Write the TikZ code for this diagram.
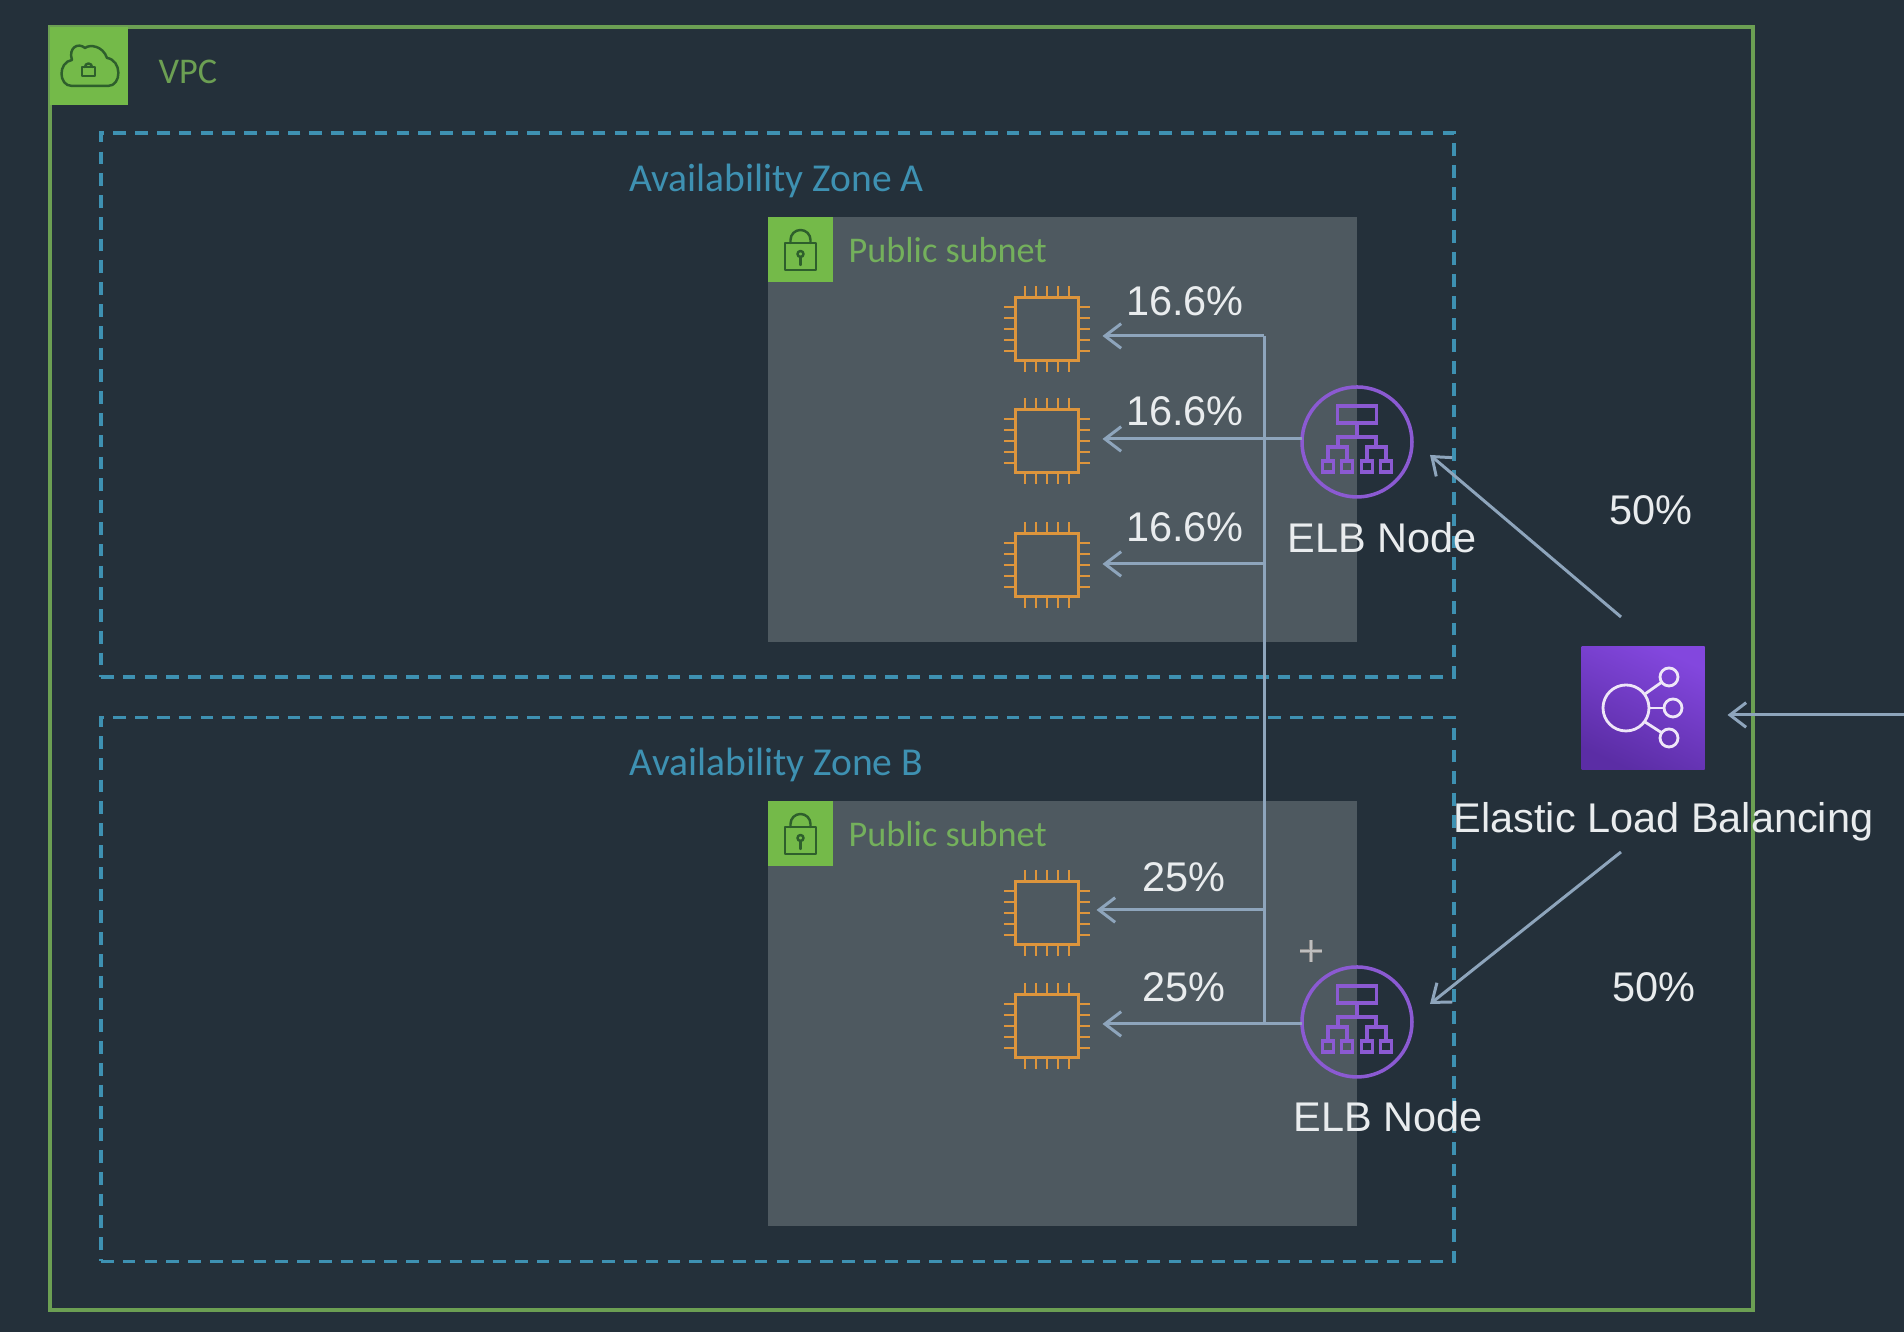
\documentclass[tikz,border=0pt]{standalone}
\usepackage{fontspec}
\setmainfont{Liberation Sans}
\newfontfamily\groupfont{Carlito}
\usetikzlibrary{arrows.meta}
\definecolor{bgdark}{HTML}{24303A}
\definecolor{subnetgray}{HTML}{4E5960}
\definecolor{vpcgreen}{HTML}{6C9F53}
\definecolor{subnetgreen}{HTML}{74B05C}
\definecolor{tagback}{HTML}{74BA49}
\definecolor{tagline}{HTML}{2E5F2C}
\definecolor{zoneblue}{HTML}{3E91B2}
\definecolor{linkgray}{HTML}{8EA5BC}
\definecolor{chiporange}{HTML}{DD953C}
\definecolor{elbpurple}{HTML}{8B5AD2}
\definecolor{lbbright}{HTML}{8347DE}
\definecolor{lbdeep}{HTML}{5B2DA5}
\definecolor{labelwhite}{HTML}{E9ECEE}
\tikzset{
  vpcbox/.style={draw=vpcgreen, line width=0.95pt, minimum width=17.03cm, minimum height=12.83cm, inner sep=0},
  tagbox/.style={fill=tagback, inner sep=0},
  taglines/.style={draw=tagline, line width=0.7pt, line cap=round, line join=round},
  zonebox/.style={draw=zoneblue, line width=1pt, dash pattern=on 3.6pt off 2.6pt, minimum width=13.53cm, minimum height=5.44cm, inner sep=0},
  subnetbox/.style={fill=subnetgray, minimum width=5.89cm, minimum height=4.25cm, inner sep=0},
  zonelabel/.style={text=zoneblue, font=\groupfont\fontsize{11.25}{13}\selectfont},
  grouplabel/.style={text=subnetgreen, inner sep=0, font=\groupfont\fontsize{10.3}{13}\selectfont},
  figure/.style={text=labelwhite, font=\fontsize{11.8}{14}\selectfont},
  chip/.style={draw=chiporange, line width=1pt, minimum size=0.63cm, inner sep=0, outer sep=0.24cm},
  elb/.style={circle, draw=elbpurple, line width=1pt, minimum size=1.1cm, inner sep=0},
  balancer/.style={top color=lbbright, bottom color=lbdeep, shading angle=-25, minimum size=1.23cm, inner sep=0, outer sep=0.23cm},
  link/.style={draw=linkgray, line width=0.85pt},
  arrowlink/.style={link, -{Straight Barb[length=4.6pt, width=7pt, line width=0.85pt]}},
  lbglyph/.style={draw=white!85!elbpurple, line width=0.8pt},
  pics/chippins/.style={code={
    \foreach \p in {-0.22,-0.11,0,0.11,0.22} {
      \draw[draw=chiporange, line width=0.8pt] (\p,0.33) -- (\p,0.43);
      \draw[draw=chiporange, line width=0.8pt] (\p,-0.33) -- (\p,-0.43);
      \draw[draw=chiporange, line width=0.8pt] (0.33,\p) -- (0.43,\p);
      \draw[draw=chiporange, line width=0.8pt] (-0.33,\p) -- (-0.43,\p);
    }
  }},
  pics/padlock/.style={code={
    \draw[taglines] (-0.155,-0.205) rectangle (0.155,0.065);
    \draw[taglines] (-0.10,0.065) -- (-0.10,0.095) arc (180:0:0.10) -- (0.10,0.065);
    \draw[taglines] (0,-0.045) circle (0.03);
    \draw[taglines] (0,-0.075) -- (0,-0.155);
  }},
  pics/elbtree/.style={code={
    \draw[draw=elbpurple, line width=1pt, line join=miter]
      (-0.195,0.19) rectangle (0.195,0.36)
      (0,0.19) -- (0,0.05)
      (-0.19,-0.05) -- (-0.19,0.05) -- (0.19,0.05) -- (0.19,-0.05)
      (-0.29,-0.185) -- (-0.29,-0.05) -- (-0.10,-0.05) -- (-0.10,-0.185)
      (0.10,-0.185) -- (0.10,-0.05) -- (0.29,-0.05) -- (0.29,-0.185);
    \foreach \q in {-0.29,-0.10,0.10,0.29} {
      \draw[draw=elbpurple, line width=1pt] (\q-0.055,-0.30) rectangle (\q+0.055,-0.19);
    }
  }},
}
\begin{document}
\begin{tikzpicture}
\useasboundingbox (0,0) rectangle (19.04,13.32);
\fill[bgdark] (0,0) rectangle (19.04,13.32);
% containers
\node[vpcbox] (vpc) at (9.015,6.635) {};
\node[zonebox] (zoneA) at (7.775,9.27) {};
\node[zonebox] (zoneB) at (7.775,3.425) {};
\node[subnetbox] (subnetA) at (10.625,9.025) {};
\node[subnetbox] (subnetB) at (10.625,3.185) {};
% tags
\node[tagbox, minimum size=0.78cm] (vpctag) at (0.89,12.66) {};
\draw[taglines] (0.72,12.46) -- (1.08,12.46) .. controls (1.22,12.46) and (1.22,12.72) .. (1.07,12.74) .. controls (1.03,12.86) and (0.90,12.88) .. (0.85,12.84) .. controls (0.78,12.90) and (0.68,12.84) .. (0.72,12.72) .. controls (0.58,12.70) and (0.58,12.46) .. (0.72,12.46);
\draw[taglines] (0.82,12.56) rectangle (0.95,12.65);
\draw[taglines] (0.85,12.65) arc (180:0:0.035);
\node[tagbox, minimum size=0.65cm] (tagA) at (8.005,10.825) {};
\pic at (tagA) {padlock};
\node[tagbox, minimum size=0.65cm] (tagB) at (8.005,4.985) {};
\pic at (tagB) {padlock};
\node[grouplabel, anchor=west, text=vpcgreen] (vpclabel) at (1.58,12.60) {VPC};
\node[zonelabel] (zoneAlabel) at (7.765,11.515) {Availability Zone A};
\node[zonelabel] (zoneBlabel) at (7.765,5.675) {Availability Zone B};
\node[grouplabel, anchor=west] (subnetAlabel) at (8.48,10.82) {Public subnet};
\node[grouplabel, anchor=west] (subnetBlabel) at (8.48,4.98) {Public subnet};
% instances
\node[chip] (chipA1) at (10.47,10.03) {};
\pic at (chipA1) {chippins};
\node[chip] (chipA2) at (10.47,8.91) {};
\pic at (chipA2) {chippins};
\node[chip] (chipA3) at (10.47,7.67) {};
\pic at (chipA3) {chippins};
\node[chip] (chipB1) at (10.47,4.19) {};
\pic at (chipB1) {chippins};
\node[chip] (chipB2) at (10.47,3.06) {};
\pic at (chipB2) {chippins};
% load balancer nodes
\node[elb] (elbA) at (13.57,8.90) {};
\pic at (elbA) {elbtree};
\node[elb] (elbB) at (13.57,3.10) {};
\pic at (elbB) {elbtree};
\node[balancer] (lb) at (16.43,6.24) {};
\draw[lbglyph] (16.26,6.24) circle (0.23);
\draw[lbglyph] (16.69,6.55) circle (0.09);
\draw[lbglyph] (16.73,6.24) circle (0.09);
\draw[lbglyph] (16.69,5.94) circle (0.09);
\draw[lbglyph] (16.45,6.38) -- (16.62,6.50);
\draw[lbglyph] (16.49,6.24) -- (16.64,6.24);
\draw[lbglyph] (16.45,6.10) -- (16.62,5.99);
% connectors
\coordinate (trunkA1) at (12.64,9.96);
\coordinate (trunkA2) at (13.02,8.93);
\coordinate (trunkA3) at (12.64,7.68);
\coordinate (trunkB1) at (12.64,4.22);
\coordinate (trunkB2) at (13.02,3.08);
\coordinate (lbup) at (16.21,7.15);
\coordinate (lbdown) at (16.21,4.80);
\coordinate (inbound) at (19.04,6.17);
\draw[link] (trunkA1) -- (trunkB2 -| trunkA1);
\draw[arrowlink] (trunkA1) -- (trunkA1 -| chipA1.east);
\draw[arrowlink] (trunkA2) -- (trunkA2 -| chipA2.east);
\draw[arrowlink] (trunkA3) -- (trunkA3 -| chipA3.east);
\draw[arrowlink, shorten >=-0.06cm] (trunkB1) -- (trunkB1 -| chipB1.east);
\draw[arrowlink] (trunkB2) -- (trunkB2 -| chipB2.east);
\draw[arrowlink] (lbup) -- ([shift={(0.73,-0.13)}]elbA.center);
\draw[arrowlink] (lbdown) -- ([shift={(0.73,0.18)}]elbB.center);
\draw[arrowlink] (inbound) -- (inbound -| lb.east);
% cursor
\draw[draw=black!45, line width=1.2pt] (13.00,3.81) -- (13.22,3.81) (13.11,3.70) -- (13.11,3.92);
\draw[draw=white!75!black, line width=0.5pt] (13.00,3.81) -- (13.22,3.81) (13.11,3.70) -- (13.11,3.92);
% labels
\node[figure] (pctA1) at (11.85,10.31) {16.6\%};
\node[figure] (pctA2) at (11.85,9.21) {16.6\%};
\node[figure] (pctA3) at (11.85,8.05) {16.6\%};
\node[figure] (pctB1) at (11.84,4.55) {25\%};
\node[figure] (pctB2) at (11.84,3.45) {25\%};
\node[figure] (elbAlabel) at (13.82,7.94) {ELB Node};
\node[figure] (elbBlabel) at (13.885,2.15) {ELB Node};
\node[figure] (lblabel) at (16.635,5.10) {Elastic Load Balancing};
\node[figure] (shareA) at (16.51,8.22) {50\%};
\node[figure] (shareB) at (16.54,3.45) {50\%};
\end{tikzpicture}
\end{document}
